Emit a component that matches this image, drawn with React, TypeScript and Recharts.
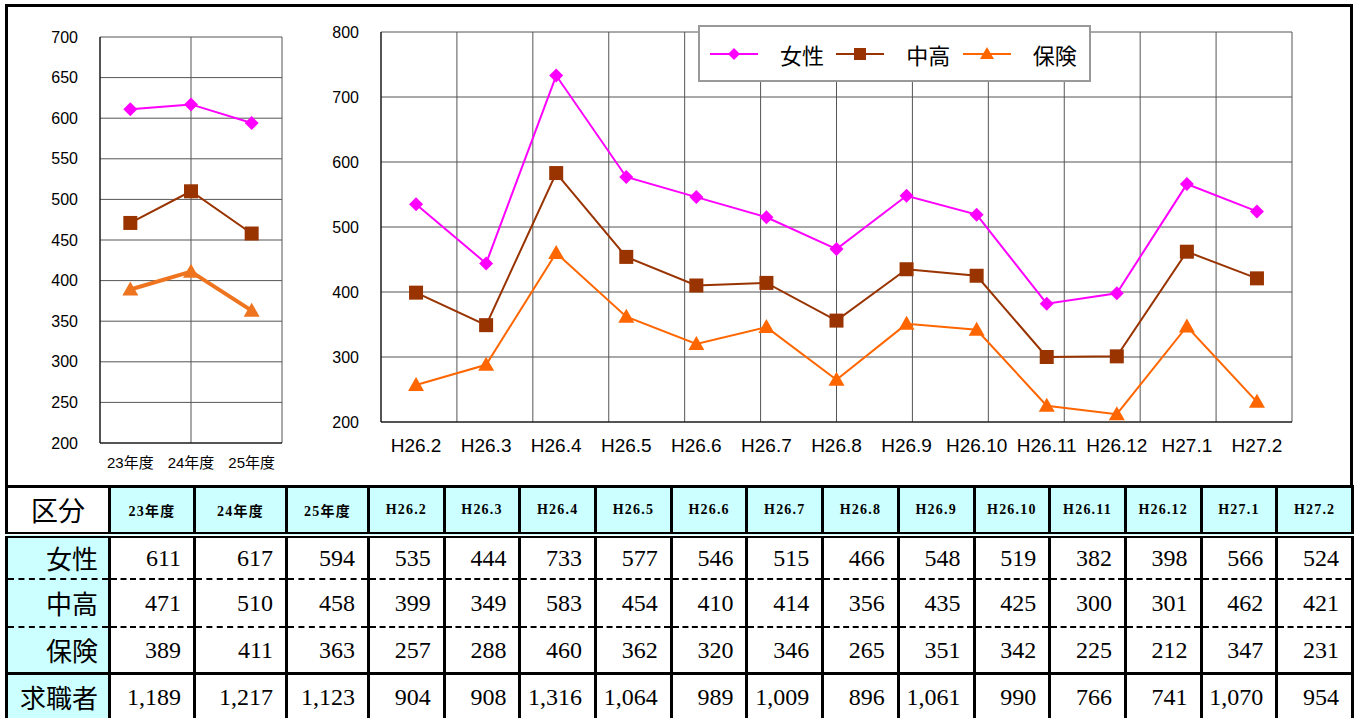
import { CartesianGrid, Legend, Line, LineChart, XAxis, YAxis } from "recharts";

// yearly figures (left chart)
const yearLabels = ["23年度", "24年度", "25年度"];
const yearWomen = [611, 617, 594];
const yearMiddleAged = [471, 510, 458];
const yearInsured = [389, 411, 363];

// monthly figures (right chart)
const monthLabels = ["H26.2", "H26.3", "H26.4", "H26.5", "H26.6", "H26.7", "H26.8", "H26.9", "H26.10", "H26.11", "H26.12", "H27.1", "H27.2"];
const monthWomen = [535, 444, 733, 577, 546, 515, 466, 548, 519, 382, 398, 566, 524];
const monthMiddleAged = [399, 349, 583, 454, 410, 414, 356, 435, 425, 300, 301, 462, 421];
const monthInsured = [257, 288, 460, 362, 320, 346, 265, 351, 342, 225, 212, 347, 231];

// total job seekers, yearly then monthly
const jobSeekers = [1189, 1217, 1123, 904, 908, 1316, 1064, 989, 1009, 896, 1061, 990, 766, 741, 1070, 954];

const yearTicks = [200, 250, 300, 350, 400, 450, 500, 550, 600, 650, 700];
const monthTicks = [200, 300, 400, 500, 600, 700, 800];

const seriesNames = ["女性", "中高", "保険"];
const seriesKeys = ["women", "middle", "insured"];
const seriesColors = ["#FF00FF", "#993300", "#FF6600"];

const SANS = "'Liberation Sans', 'Noto Sans CJK JP', sans-serif";
const CJK = "'Noto Sans CJK JP', sans-serif";
const SERIF = "'Liberation Serif', 'Noto Sans CJK JP', serif";

type DotProps = { cx?: number; cy?: number; index?: number };

function markerPath(kind: number, cx: number, cy: number, r: number) {
    if (kind === 0) return `M${cx},${cy - r}L${cx + r},${cy}L${cx},${cy + r}L${cx - r},${cy}Z`;
    if (kind === 1) return `M${cx - r},${cy - r}H${cx + r}V${cy + r}H${cx - r}Z`;
    return `M${cx},${cy - r - 1}L${cx + r + 1},${cy + r - 1}L${cx - r - 1},${cy + r - 1}Z`;
}

function makeDot(kind: number, color: string, r: number) {
    return (props: DotProps) => {
        const { cx, cy, index } = props;
        if (cx == null || cy == null) return <g key={index} />;
        return <path key={index} d={markerPath(kind, cx, cy, r)} fill={color} />;
    };
}

function buildRows(labels: string[], women: number[], middle: number[], insured: number[]) {
    return labels.map((label, i) => ({ label, women: women[i], middle: middle[i], insured: insured[i] }));
}

const yearData = buildRows(yearLabels, yearWomen, yearMiddleAged, yearInsured);
const monthData = buildRows(monthLabels, monthWomen, monthMiddleAged, monthInsured);

const boundaries = (n: number) => Array.from({ length: n + 1 }, (_, i) => i);

function LegendBox() {
    return (
        <div style={{ width: 393, height: 57, boxSizing: "border-box", border: "2px solid #999", background: "#fff", display: "flex", alignItems: "center", paddingLeft: 10 }}>
            {seriesNames.map((name, i) => (
                <div key={name} style={{ display: "flex", alignItems: "center", width: 130 }}>
                    <svg width={48} height={20}>
                        <line x1={0} y1={10} x2={48} y2={10} stroke={seriesColors[i]} strokeWidth={2} />
                        <path d={markerPath(i, 24, 10, 6)} fill={seriesColors[i]} />
                    </svg>
                    <span style={{ marginLeft: 22, fontFamily: CJK, fontSize: 22, color: "#000" }}>{name}</span>
                </div>
            ))}
        </div>
    );
}

export default function App() {
    return (
        <div style={{ position: "absolute", left: 0, top: 0, width: 1357, height: 718, background: "#fff", fontFamily: SANS, overflow: "hidden" }}>
            <div style={{ position: "absolute", left: 5, top: 4, width: 1348, height: 482, boxSizing: "border-box", border: "3px solid #000", borderBottom: "none" }} />

            <div style={{ position: "absolute", left: 0, top: 0 }}>
                <LineChart width={300} height={480} data={yearData} margin={{ top: 37, right: 18, left: 0, bottom: 0 }}>
                    <XAxis xAxisId="grid" type="number" domain={[0, yearLabels.length]} ticks={boundaries(yearLabels.length)} hide />
                    <CartesianGrid xAxisId="grid" stroke="#555" strokeWidth={1} />
                    <XAxis xAxisId="cat" dataKey="label" scale="band" height={37} axisLine={{ stroke: "#000" }} tickLine={false} tickSize={0} tickMargin={14} tick={{ fill: "#000", fontSize: 15, fontFamily: SANS }} interval={0} />
                    <YAxis width={100} domain={[200, 700]} ticks={yearTicks} axisLine={{ stroke: "#000" }} tickLine={false} tickSize={0} tickMargin={22} tick={{ fill: "#000", fontSize: 16, fontFamily: SANS }} />
                    <Line xAxisId="cat" dataKey="women" stroke={seriesColors[0]} strokeWidth={2} dot={makeDot(0, seriesColors[0], 7)} isAnimationActive={false} />
                    <Line xAxisId="cat" dataKey="middle" stroke={seriesColors[1]} strokeWidth={2} dot={makeDot(1, seriesColors[1], 7)} isAnimationActive={false} />
                    <Line xAxisId="cat" dataKey="insured" stroke="#EE7420" strokeWidth={4} dot={makeDot(2, "#EE7420", 7)} isAnimationActive={false} />
                </LineChart>
            </div>

            <div style={{ position: "absolute", left: 300, top: 0 }}>
                <LineChart width={1010} height={480} data={monthData} margin={{ top: 32, right: 18, left: 0, bottom: 0 }}>
                    <XAxis xAxisId="grid" type="number" domain={[0, monthLabels.length]} ticks={boundaries(monthLabels.length)} hide />
                    <CartesianGrid xAxisId="grid" stroke="#555" strokeWidth={1} />
                    <XAxis xAxisId="cat" dataKey="label" scale="band" height={58} axisLine={{ stroke: "#000" }} tickLine={false} tickSize={0} tickMargin={17} tick={{ fill: "#000", fontSize: 19, fontFamily: SANS }} interval={0} />
                    <YAxis width={81} domain={[200, 800]} ticks={monthTicks} axisLine={{ stroke: "#000" }} tickLine={false} tickSize={0} tickMargin={22} tick={{ fill: "#000", fontSize: 16, fontFamily: SANS }} />
                    {seriesKeys.map((key, i) => (
                        <Line key={key} xAxisId="cat" dataKey={key} name={seriesNames[i]} stroke={seriesColors[i]} strokeWidth={2} dot={makeDot(i, seriesColors[i], 7)} isAnimationActive={false} />
                    ))}
                    <Legend layout="horizontal" verticalAlign="middle" align="center" wrapperStyle={{ left: 398, top: 25, width: 393 }} content={() => <LegendBox />} />
                </LineChart>
            </div>

            <DataTable />
        </div>
    );
}

function DataTable() {
    const colLabels = [...yearLabels, ...monthLabels];
    const rows = [
        { name: "女性", values: [...yearWomen, ...monthWomen], bottom: "2px dashed #000" },
        { name: "中高", values: [...yearMiddleAged, ...monthMiddleAged], bottom: "2px dashed #000" },
        { name: "保険", values: [...yearInsured, ...monthInsured], bottom: "3px solid #000" },
        { name: "求職者", values: jobSeekers, bottom: "3px solid #000" },
    ];
    const heights = [44, 48, 47, 46];
    const side = "3px solid #000";
    return (
        <table style={{ position: "absolute", left: 5, top: 485, width: 1349, borderCollapse: "collapse", tableLayout: "fixed" }}>
            <colgroup>
                <col style={{ width: 103 }} />
                <col style={{ width: 85 }} />
                <col style={{ width: 92 }} />
                <col style={{ width: 82 }} />
                {monthLabels.map((m) => <col key={m} />)}
            </colgroup>
            <tbody>
                <tr style={{ height: 48 }}>
                    <td style={{ border: side, borderBottom: "6px double #000", background: "#fff", textAlign: "center", fontFamily: CJK, fontSize: 27, padding: 0 }}>区分</td>
                    {colLabels.map((c) => (
                        <td key={c} style={{ border: side, borderBottom: "6px double #000", background: "#CCFFFF", textAlign: "center", fontFamily: SERIF, fontWeight: "bold", fontSize: 14, letterSpacing: 1.2, padding: 0 }}>{c}</td>
                    ))}
                </tr>
                {rows.map((r, ri) => (
                    <tr key={r.name} style={{ height: heights[ri] }}>
                        <td style={{ borderLeft: side, borderRight: side, borderBottom: r.bottom, background: "#CCFFFF", textAlign: "right", paddingRight: 10, paddingTop: 0, paddingBottom: 0, fontFamily: CJK, fontSize: 26, lineHeight: 1 }}>{r.name}</td>
                        {r.values.map((v, i) => (
                            <td key={i} style={{ borderLeft: side, borderRight: side, borderBottom: r.bottom, textAlign: "right", paddingRight: 12, paddingTop: 0, paddingBottom: 0, fontFamily: SERIF, fontSize: 24, lineHeight: 1 }}>{v.toLocaleString("en-US")}</td>
                        ))}
                    </tr>
                ))}
            </tbody>
        </table>
    );
}
